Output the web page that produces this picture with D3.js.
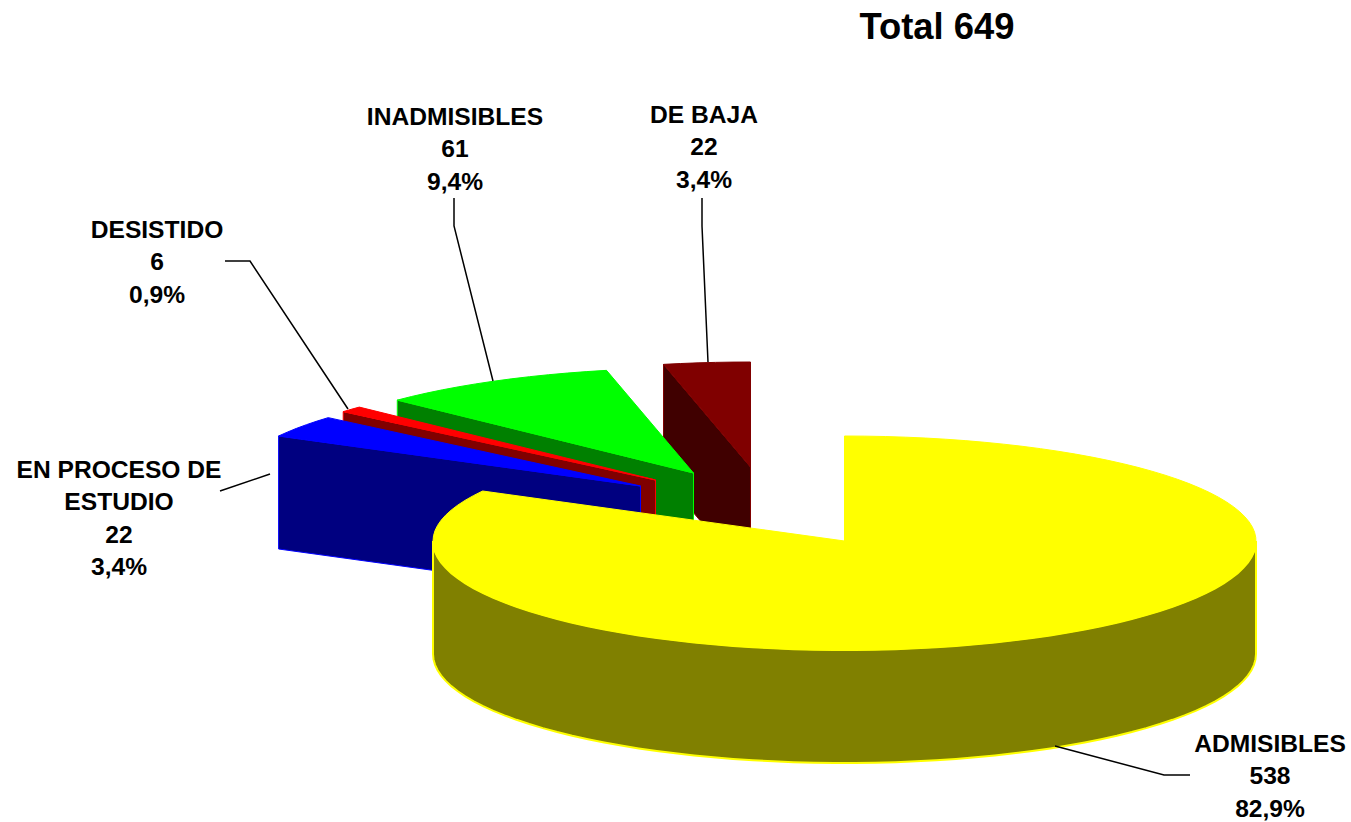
<!DOCTYPE html>
<meta charset="utf-8">
<title>Total 649</title>
<style>

body {
  margin: 0;
  background-color: white;
}

text {
  font-family: "Liberation Sans", Arial, sans-serif;
  font-weight: bold;
  fill: black;
  text-anchor: middle;
}

.leader {
  fill: none;
  stroke: black;
  stroke-width: 1.5px;
}

</style>
<body>
<script src="https://d3js.org/d3.v7.min.js"></script>
<script>

var categories = ["ADMISIBLES", "EN PROCESO DE|ESTUDIO", "DESISTIDO", "INADMISIBLES", "DE BAJA"],
    values = [538, 22, 6, 61, 22],
    percents = ["82,9%", "3,4%", "0,9%", "9,4%", "3,4%"],
    title = "Total 649";

var topColors = ["#ffff00", "#0000ff", "#ff0000", "#00ff00", "#800000"],
    wallColors = ["#808000", "#000080", "#800000", "#008000", "#400000"],
    edgeColors = ["#ffff00", "#0000ff", "#ff0000", "#00ff00", "#800000"];

// how far each slice is pulled out of the pie, in pixels
var explodeX = [0, -204, -189, -151, -94],
    explodeY = [0, -55, -61, -68, -74];

// label centre, first baseline, leader line
var labelX = [1270, 119, 157, 455, 704],
    labelY = [752, 478, 238, 125, 123],
    leaders = [
      [[1055, 746], [1164, 775], [1190, 775]],
      [[220, 491], [270, 474]],
      [[225, 261], [250, 261], [348, 409]],
      [[454, 198], [454, 226], [493, 381]],
      [[702, 198], [702, 226], [708, 362]]
    ];

var width = 1351,
    height = 822,
    depth = 113,
    lineStep = 32.4,
    drawOrder = [4, 3, 2, 1, 0];

var svg = d3.select("body").append("svg")
    .attr("width", width)
    .attr("height", height)
    .style("display", "block");

// tilted circle: front half is a bit taller than the back half
var x = d3.scaleLinear().domain([-1, 1]).range([433, 1256]),
    y = d3.scaleLinear().domain([-1, 0, 1]).range([436, 541, 650]);

var pie = d3.pie().sort(null);
var arcs = pie(values);

var line = d3.line();

function rim(a, i) {
  return [x(Math.sin(a)) + explodeX[i], y(-Math.cos(a)) + explodeY[i]];
}

// coarse steps on purpose, the original edge is a bit faceted
function rimPoints(a0, a1, i) {
  var n = Math.max(2, Math.ceil((a1 - a0) / 0.05));
  return d3.range(n + 1).map(function(k) { return rim(a0 + (a1 - a0) * k / n, i); });
}

function apex(i) {
  return [x(0) + explodeX[i], y(0) + explodeY[i]];
}

function down(p) {
  return [p[0], p[1] + depth];
}

drawOrder.forEach(function(i) {
  var d = arcs[i],
      g = svg.append("g"),
      a = apex(i);

  if (i === 0) {
    // outer wall, only the front part shows
    var front = rimPoints(Math.PI / 2, 3 * Math.PI / 2, i);
    g.append("path")
        .attr("d", line(front.concat(front.map(down).reverse())) + "Z")
        .attr("fill", wallColors[i])
        .attr("stroke", edgeColors[i])
        .attr("stroke-width", 2);
  } else {
    // cut face along the start of the slice
    var out = rim(d.startAngle, i);
    g.append("path")
        .attr("d", line([out, a, down(a), down(out)]) + "Z")
        .attr("fill", wallColors[i])
        .attr("stroke", edgeColors[i])
        .attr("stroke-width", 1);
  }

  g.append("path")
      .attr("d", line([a].concat(rimPoints(d.startAngle, d.endAngle, i))) + "Z")
      .attr("fill", topColors[i])
      .attr("stroke", edgeColors[i])
      .attr("stroke-width", 1);
});

svg.selectAll(".leader")
    .data(leaders)
  .enter().append("path")
    .attr("class", "leader")
    .attr("d", line);

categories.forEach(function(c, i) {
  var lines = c.split("|").concat([values[i], percents[i]]);
  svg.append("g").selectAll("text")
      .data(lines)
    .enter().append("text")
      .attr("x", labelX[i])
      .attr("y", function(d, k) { return labelY[i] + k * lineStep; })
      .style("font-size", "24.6px")
      .text(function(d) { return d; });
});

svg.append("text")
    .attr("x", 937)
    .attr("y", 39)
    .style("font-size", "36.4px")
    .text(title);

</script>
